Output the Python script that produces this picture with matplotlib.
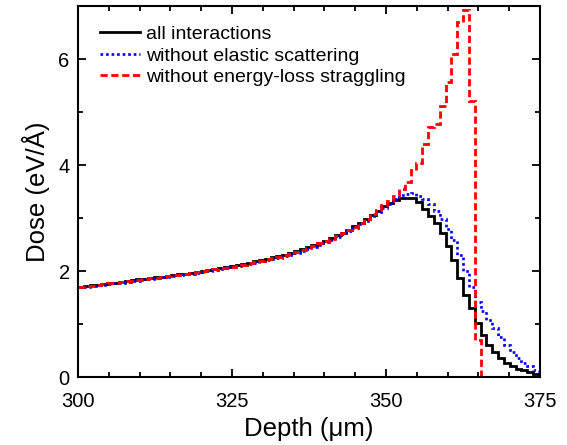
import numpy as np
import matplotlib
matplotlib.use("Agg")
import matplotlib.pyplot as plt

plt.rcParams['font.family'] = ['Liberation Sans', 'DejaVu Sans']

# depth bins (um), regular grid starting at 300
depth_start = 300.0
bin_width = 0.947
n_bins = 80
edges = depth_start + bin_width * np.arange(n_bins + 1)

# dose (eV/A) per bin
dose_all = [1.70, 1.71, 1.73, 1.74, 1.76, 1.77, 1.78, 1.80, 1.81, 1.83,
            1.84, 1.85, 1.86, 1.88, 1.89, 1.91, 1.92, 1.94, 1.95, 1.97,
            1.98, 2.00, 2.02, 2.04, 2.05, 2.07, 2.09, 2.11, 2.13, 2.16,
            2.18, 2.20, 2.23, 2.26, 2.28, 2.31, 2.34, 2.38, 2.41, 2.45,
            2.49, 2.53, 2.57, 2.62, 2.67, 2.72, 2.78, 2.84, 2.91, 2.98,
            3.06, 3.14, 3.22, 3.29, 3.34, 3.38, 3.38, 3.37, 3.30, 3.17,
            3.03, 2.90, 2.72, 2.48, 2.20, 1.86, 1.55, 1.30, 1.02, 0.80,
            0.61, 0.48, 0.35, 0.26, 0.20, 0.16, 0.14, 0.10, 0.05, 0.03]

dose_no_elastic = [1.69, 1.70, 1.71, 1.73, 1.74, 1.75, 1.77, 1.78, 1.80, 1.81,
                   1.82, 1.84, 1.85, 1.86, 1.88, 1.89, 1.91, 1.92, 1.94, 1.95,
                   1.97, 1.98, 2.00, 2.02, 2.03, 2.05, 2.07, 2.09, 2.11, 2.13,
                   2.16, 2.18, 2.20, 2.23, 2.25, 2.28, 2.31, 2.34, 2.38, 2.42,
                   2.46, 2.50, 2.54, 2.59, 2.64, 2.69, 2.75, 2.81, 2.88, 2.95,
                   3.03, 3.11, 3.19, 3.27, 3.35, 3.44, 3.45, 3.47, 3.42, 3.35,
                   3.27, 3.13, 2.98, 2.80, 2.58, 2.30, 2.00, 1.70, 1.42, 1.24,
                   1.08, 0.92, 0.76, 0.61, 0.48, 0.35, 0.27, 0.20, 0.13, 0.08]

dose_no_straggling = [1.70, 1.71, 1.72, 1.74, 1.75, 1.77, 1.78, 1.79, 1.81, 1.82,
                      1.83, 1.85, 1.86, 1.87, 1.89, 1.90, 1.92, 1.93, 1.95, 1.96,
                      1.98, 2.00, 2.01, 2.03, 2.05, 2.06, 2.08, 2.10, 2.12, 2.15,
                      2.17, 2.19, 2.22, 2.24, 2.27, 2.30, 2.33, 2.36, 2.40, 2.44,
                      2.48, 2.52, 2.56, 2.61, 2.66, 2.71, 2.77, 2.83, 2.90, 2.98,
                      3.07, 3.16, 3.25, 3.33, 3.41, 3.54, 3.68, 3.90, 4.03, 4.39,
                      4.72, 4.78, 5.12, 5.56, 6.10, 6.70, 6.92, 5.21, 0.70, 0.00,
                      0.00, 0.00, 0.00, 0.00, 0.00, 0.00, 0.00, 0.00, 0.00, 0.00]

fig = plt.figure(figsize=(5.67, 4.45), dpi=100)
ax = fig.add_axes([0.1376, 0.1528, 0.8148, 0.8337])

ax.stairs(dose_all, edges, baseline=None, color='black', linewidth=2.0,
          label='all interactions')
ax.stairs(dose_no_elastic, edges, baseline=None, color='#0000ee', linewidth=1.9,
          linestyle=(0, (1, 1.1)), label='without elastic scattering')
ax.stairs(dose_no_straggling, edges, baseline=None, color='#ff0000', linewidth=2.0,
          linestyle=(0, (2.6, 1.3)), label='without energy-loss straggling')

ax.set_xlim(300, 375)
ax.set_ylim(0, 7)
ax.set_xticks([300, 325, 350, 375])
ax.set_xticks(np.arange(300, 376, 5), minor=True)
ax.set_yticks([0, 2, 4, 6])
ax.set_yticks(np.arange(0, 8, 1), minor=True)
ax.tick_params(which='both', direction='in', top=True, right=True, width=1.3)
ax.tick_params(which='major', length=6, labelsize=14.5)
ax.tick_params(axis='x', which='major', pad=11)
ax.tick_params(axis='y', which='major', pad=6)
ax.tick_params(which='minor', length=3.5)
for s in ax.spines.values():
    s.set_linewidth(1.5)

ax.set_xlabel('Depth (\u03bcm)', fontsize=18.5, labelpad=4)
ax.set_ylabel('Dose (eV/\u00c5)', fontsize=18.5, labelpad=6)

ax.legend(loc='upper left', bbox_to_anchor=(0.03, 0.968), frameon=False,
          fontsize=14, handlelength=2.1, handletextpad=0.3, labelspacing=0.2,
          borderaxespad=0.0)

fig.savefig('out.png', dpi=100)
